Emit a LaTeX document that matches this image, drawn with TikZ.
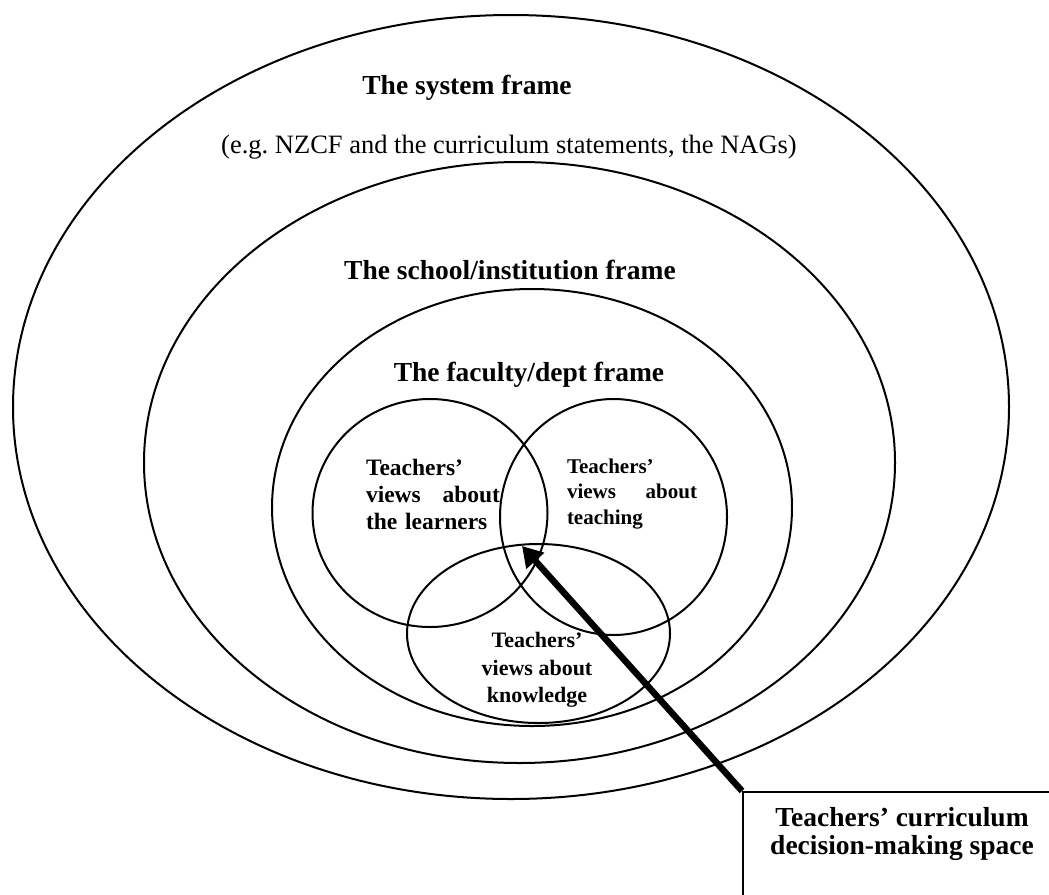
\documentclass[tikz,border=0pt]{standalone}
\usepackage{fontspec}
\setmainfont{Liberation Serif}
\usepackage{tikz}
\usetikzlibrary{shapes.geometric, arrows.meta, positioning}
\tikzstyle{frame} = [ellipse, draw, line width=1pt, inner sep=0pt]
\tikzstyle{heading} = [font=\bfseries\fontsize{13.75}{16}\selectfont]
\tikzstyle{line} = [draw, line width=3.25pt, -{Triangle[length=10pt, width=11.5pt]}]

\begin{document}
\begin{tikzpicture}[x=0.5pt, y=-0.5pt]
    \useasboundingbox (0,0) rectangle (1049,894);
    % Frames
    \node [frame, minimum width=498pt, minimum height=392pt] (system) at (511,407) {};
    \node [frame, minimum width=375.5pt, minimum height=300.5pt] (school) at (519.5,462.5) {};
    \node [frame, minimum width=260pt, minimum height=218.5pt] (faculty) at (532,507.5) {};
    % Views
    \node [frame, minimum width=117.5pt, minimum height=114pt] (learners) at (430,513) {};
    \node [frame, minimum width=113.5pt, minimum height=118pt] (teaching) at (613.5,517) {};
    \node [frame, minimum width=131.5pt, minimum height=89.5pt] (knowledge) at (538.5,633.5) {};
    % Labels
    \node [heading] (systemlabel) at (467,88) {The system frame};
    \node [font=\fontsize{13.25}{16}\selectfont] (systemnote) at (509,147) {(e.g.\ NZCF and the curriculum statements, the NAGs)};
    \node [heading] (schoollabel) at (510,270) {The school/institution frame};
    \node [heading] (facultylabel) at (529,375) {The faculty/dept frame};
    \node [font=\bfseries\fontsize{11.75}{13.5}\selectfont, text width=67pt, align=left, inner sep=0pt] (learnerstext) at (433,494)
        {Teachers'\\ views\hfill about\\ the learners};
    \node [font=\bfseries\fontsize{10.5}{12.75}\selectfont, text width=65pt, align=left, inner sep=0pt] (teachingtext) at (632,494)
        {Teachers'\\ views\hfill about\\ teaching};
    \node [font=\bfseries\fontsize{11}{13.75}\selectfont, align=center, inner sep=0pt] (knowledgetext) at (537,670)
        {Teachers'\\ views about\\ knowledge};
    % Decision space
    \node [draw, line width=1pt, anchor=north west, minimum width=180pt, minimum height=80pt] (space) at (742,791) {};
    \node [heading, align=center, inner sep=0pt, font=\bfseries\fontsize{13.75}{14}\selectfont] (spacetext) at (902,834)
        {Teachers' curriculum\\ decision-making space};
    \coordinate (core) at (522,546);
    % Edges
    \path[line] (space.north west) -- (core);
\end{tikzpicture}
\end{document}
